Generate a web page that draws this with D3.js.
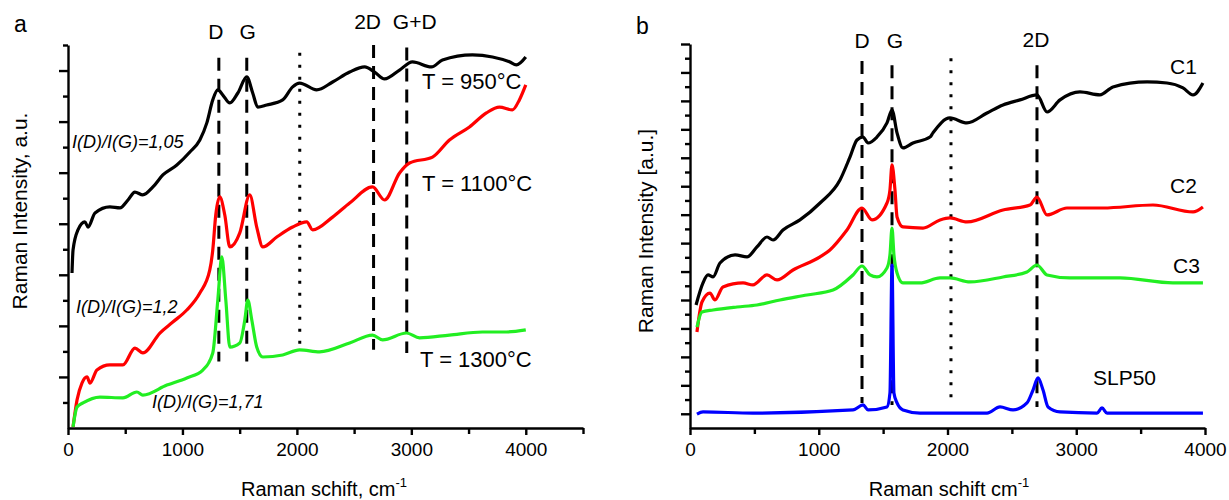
<!DOCTYPE html>
<html>
<head>
<meta charset="utf-8">
<script src="https://cdn.jsdelivr.net/npm/d3@7"></script>
<style>
    body { margin: 0; background: #fff; }
    svg text { font-family: "Liberation Sans", Arial, sans-serif; fill: #000; }
</style>
</head>
<body>
<svg id="chart" width="1229" height="500"></svg>
<script>

// ---- panel a : annealing temperature ----
const a950Shift = [35, 44, 87, 148, 175, 236, 366, 454, 524, 585, 654, 742, 829, 951, 1065, 1152, 1213, 1265, 1309, 1353, 1414, 1484, 1562, 1614, 1658, 1736, 1876, 1963, 2024, 2173, 2312, 2461, 2592, 2679, 2766, 2897, 3010, 3176, 3272, 3534, 3709, 3857, 3918, 4000];
const a950Int = [6.07, 6.97, 7.76, 8.07, 7.87, 8.42, 8.66, 8.62, 8.93, 9.24, 9.13, 9.44, 9.91, 10.30, 10.81, 11.28, 11.95, 12.85, 13.24, 13.04, 12.73, 13.12, 13.75, 13.12, 12.57, 12.65, 12.85, 13.36, 13.51, 13.24, 13.55, 13.94, 14.14, 13.94, 13.67, 14.02, 14.34, 14.14, 14.41, 14.61, 14.53, 14.34, 14.22, 14.53];

const a1100Shift = [44, 79, 122, 166, 192, 253, 366, 480, 585, 654, 803, 916, 1038, 1152, 1239, 1265, 1291, 1326, 1370, 1414, 1501, 1588, 1649, 1702, 1824, 1963, 2086, 2138, 2312, 2461, 2661, 2766, 2897, 2984, 3185, 3333, 3508, 3656, 3770, 3883, 3944, 4000];
const a1100Int = [0.04, 1.10, 1.76, 2.00, 1.76, 2.27, 2.47, 2.47, 3.13, 2.94, 3.72, 4.15, 4.62, 5.29, 6.19, 6.97, 8.34, 9.05, 8.34, 7.09, 7.64, 9.13, 7.87, 7.09, 7.48, 7.87, 8.07, 7.76, 8.26, 8.81, 9.44, 8.93, 9.99, 10.38, 10.61, 11.28, 11.79, 12.34, 12.57, 12.46, 12.85, 13.44];

const a1300Shift = [44, 79, 131, 279, 480, 602, 654, 864, 1038, 1178, 1265, 1309, 1344, 1379, 1414, 1501, 1545, 1571, 1606, 1649, 1702, 1876, 2024, 2199, 2461, 2661, 2749, 2958, 3072, 3333, 3621, 3831, 4000];
const a1300Int = [0.04, 0.82, 0.98, 1.21, 1.18, 1.41, 1.29, 1.68, 1.96, 2.27, 2.94, 5.01, 6.70, 5.01, 3.17, 3.33, 4.23, 5.01, 4.23, 3.17, 2.78, 2.86, 3.06, 2.98, 3.33, 3.64, 3.45, 3.72, 3.53, 3.64, 3.76, 3.76, 3.84];

const aMarkShift = [1318, 1562, 2025, 2670, 2960];
const aMarkTop = [14.5, 14.5, 14.7, 15.0, 14.9];
const aMarkBottom = [2.6, 2.6, 3.06, 3.06, 2.94];
const aMarkLabel = ['D', 'G', '', '2D', 'G+D'];

// ---- panel b : samples ----
const bC1Shift = [47, 101, 140, 179, 233, 350, 443, 520, 598, 645, 722, 854, 1010, 1165, 1243, 1297, 1344, 1383, 1452, 1530, 1569, 1608, 1654, 1732, 1864, 1887, 2019, 2151, 2307, 2431, 2563, 2695, 2773, 2874, 3029, 3184, 3285, 3550, 3705, 3829, 3907, 3984];
const bC1Int = [8.65, 10.20, 10.76, 10.62, 11.60, 12.17, 12.03, 12.73, 13.43, 13.22, 13.92, 14.63, 15.82, 17.44, 19.06, 20.25, 20.46, 20.04, 20.46, 21.45, 22.36, 20.75, 19.69, 20.04, 20.46, 20.75, 21.80, 21.45, 22.15, 22.71, 23.07, 23.42, 22.22, 23.07, 23.63, 23.42, 23.98, 24.33, 24.26, 23.91, 23.42, 24.26];

const bC2Shift = [54, 93, 155, 194, 256, 412, 489, 598, 676, 800, 1010, 1087, 1219, 1336, 1414, 1530, 1553, 1569, 1592, 1608, 1654, 1810, 1942, 2019, 2151, 2431, 2641, 2695, 2773, 2928, 3208, 3596, 3907, 3984];
const bC2Int = [6.75, 8.86, 9.49, 9.00, 9.92, 10.20, 10.06, 10.76, 10.41, 11.11, 12.03, 12.52, 13.92, 15.47, 14.63, 15.82, 16.74, 18.50, 16.74, 14.84, 14.14, 14.06, 14.63, 14.77, 14.49, 15.33, 15.68, 16.24, 14.98, 15.47, 15.47, 15.68, 15.19, 15.54];

const bC3Shift = [54, 93, 179, 365, 520, 699, 909, 1111, 1266, 1336, 1398, 1452, 1530, 1553, 1569, 1584, 1608, 1654, 1786, 1942, 2019, 2175, 2431, 2617, 2695, 2773, 2951, 3340, 3751, 3984];
const bC3Int = [7.10, 8.16, 8.30, 8.51, 8.65, 9.00, 9.35, 9.70, 10.76, 11.39, 10.76, 10.62, 11.25, 12.17, 14.06, 12.17, 10.90, 10.20, 10.20, 10.55, 10.55, 10.27, 10.62, 10.97, 11.46, 10.76, 10.55, 10.55, 10.20, 10.20];

const bSlpShift = [54, 101, 489, 1266, 1344, 1383, 1530, 1553, 1569, 1584, 1608, 1654, 1786, 2307, 2408, 2509, 2617, 2664, 2703, 2742, 2781, 2874, 3161, 3200, 3239, 3984];
const bSlpInt = [0.98, 1.13, 1.05, 1.27, 1.62, 1.27, 1.48, 2.46, 11.46, 2.46, 1.76, 1.27, 1.05, 1.05, 1.48, 1.27, 1.76, 2.67, 3.52, 2.67, 1.48, 1.13, 1.05, 1.41, 1.05, 1.05];

const bMarkShift = [1336, 1569, 2027, 2695];
const bMarkTop = [25.8, 25.5, 26.0, 25.5];
const bMarkBottom = [1.76, 1.62, 1.76, 1.48];
const bMarkLabel = ['D', 'G', '', '2D'];

const xTicks = [0, 1000, 2000, 3000, 4000];

const svg = d3.select('#chart');

const xA = d3.scaleLinear().domain([0, 4500]).range([68, 583]);
const yA = d3.scaleLinear().domain([0, 15]).range([428, 45]);
const xB = d3.scaleLinear().domain([0, 4000]).range([690, 1205]);
const yB = d3.scaleLinear().domain([0, 27]).range([428, 44]);

function drawAxes(x, y, minorX, yMax, longEven) {
    // minor x ticks
    svg.append('g')
        .attr('transform', 'translate(0,428)')
        .call(d3.axisBottom(x).tickValues(minorX).tickSize(6).tickSizeOuter(0).tickFormat(''))
        .call(g => g.select('.domain').remove());
    // major x ticks
    const gx = svg.append('g')
        .attr('transform', 'translate(0,428)')
        .call(d3.axisBottom(x).tickValues(xTicks).tickSize(7).tickSizeOuter(0).tickPadding(8).tickFormat(d3.format('d')));
    gx.selectAll('text').attr('font-size', 19).attr('font-family', '"Liberation Sans", Arial, sans-serif');

    const all = d3.range(0, yMax + 1);
    const longT = all.filter(v => (v % 2 === 0) === longEven && v > 0);
    const shortT = all.filter(v => (v % 2 === 0) !== longEven && v > 0);
    svg.append('g')
        .attr('transform', 'translate(' + x.range()[0] + ',0)')
        .call(d3.axisLeft(y).tickValues(shortT).tickSize(5).tickSizeOuter(0).tickFormat(''))
        .call(g => g.select('.domain').remove());
    svg.append('g')
        .attr('transform', 'translate(' + x.range()[0] + ',0)')
        .call(d3.axisLeft(y).tickValues(longT).tickSize(9).tickSizeOuter(0).tickFormat(''));

    svg.selectAll('.domain, .tick line').attr('stroke', '#000').attr('stroke-width', 2.4);
}

drawAxes(xA, yA, [500, 1500, 2500, 3500, 4500], 15, true);
drawAxes(xB, yB, [500, 1500, 2500, 3500], 27, false);

function drawMarkers(x, y, shifts, tops, bottoms) {
    shifts.forEach((s, i) => {
        svg.append('line')
            .attr('x1', x(s)).attr('x2', x(s))
            .attr('y1', y(tops[i])).attr('y2', y(bottoms[i]))
            .attr('stroke', '#000')
            .attr('stroke-width', 3)
            .attr('stroke-dasharray', s > 1900 && s < 2100 ? '3,9' : '13,8');
    });
}

drawMarkers(xA, yA, aMarkShift, aMarkTop, aMarkBottom);
drawMarkers(xB, yB, bMarkShift, bMarkTop, bMarkBottom);

function drawSeries(x, y, shifts, ints, color) {
    const line = d3.line()
        .x(d => x(d[0]))
        .y(d => y(d[1]))
        .curve(d3.curveMonotoneX);
    svg.append('path')
        .datum(d3.zip(shifts, ints))
        .attr('d', line)
        .attr('fill', 'none')
        .attr('stroke', color)
        .attr('stroke-width', 3.2)
        .attr('stroke-linejoin', 'round');
}

drawSeries(xA, yA, a950Shift, a950Int, '#000000');
drawSeries(xA, yA, a1100Shift, a1100Int, '#ff0000');
drawSeries(xA, yA, a1300Shift, a1300Int, '#22ee22');

drawSeries(xB, yB, bC1Shift, bC1Int, '#000000');
drawSeries(xB, yB, bC2Shift, bC2Int, '#ff0000');
drawSeries(xB, yB, bC3Shift, bC3Int, '#22ee22');
drawSeries(xB, yB, bSlpShift, bSlpInt, '#0000ff');

// peak labels
const peakA = [[-3, 39], [1, 39], null, [-6, 29], [8, 29]];
aMarkLabel.forEach((t, i) => {
    if (!t) return;
    svg.append('text')
        .attr('x', xA(aMarkShift[i]) + peakA[i][0])
        .attr('y', peakA[i][1])
        .attr('text-anchor', 'middle')
        .attr('font-size', 21)
        .text(t);
});
const peakB = [[0, 48], [3, 48], null, [-1, 47]];
bMarkLabel.forEach((t, i) => {
    if (!t) return;
    svg.append('text')
        .attr('x', xB(bMarkShift[i]) + peakB[i][0])
        .attr('y', peakB[i][1])
        .attr('text-anchor', 'middle')
        .attr('font-size', 21)
        .text(t);
});

function label(txt, x, y, size, italic) {
    svg.append('text')
        .attr('x', x).attr('y', y)
        .attr('font-size', size)
        .attr('font-style', italic ? 'italic' : 'normal')
        .text(txt);
}

label('a', 14, 32, 23);
label('b', 636, 34, 23);

label('T = 950°C', 422, 89, 22);
label('T = 1100°C', 422, 191, 22);
label('T = 1300°C', 420, 367, 22);
label('I(D)/I(G)=1,05', 72, 148, 18, true);
label('I(D)/I(G)=1,2', 76, 313, 18, true);
label('I(D)/I(G)=1,71', 152, 408, 18, true);

label('C1', 1170, 74, 21);
label('C2', 1170, 193, 21);
label('C3', 1173, 273, 21);
label('SLP50', 1093, 385, 21);

// axis titles
function xTitle(txt, cx) {
    const t = svg.append('text')
        .attr('x', cx).attr('y', 496)
        .attr('text-anchor', 'middle')
        .attr('font-size', 20)
        .text(txt);
    t.append('tspan')
        .attr('font-size', 13)
        .attr('dy', -9)
        .text('-1');
}
xTitle('Raman schift, cm', 324);
xTitle('Raman schift cm', 949);

svg.append('text')
    .attr('transform', 'translate(27,211) rotate(-90)')
    .attr('text-anchor', 'middle')
    .attr('font-size', 21)
    .text('Raman Intensity, a.u.');
svg.append('text')
    .attr('transform', 'translate(653,231) rotate(-90)')
    .attr('text-anchor', 'middle')
    .attr('font-size', 21)
    .text('Raman Intensity [a.u.]');

</script>
</body>
</html>
